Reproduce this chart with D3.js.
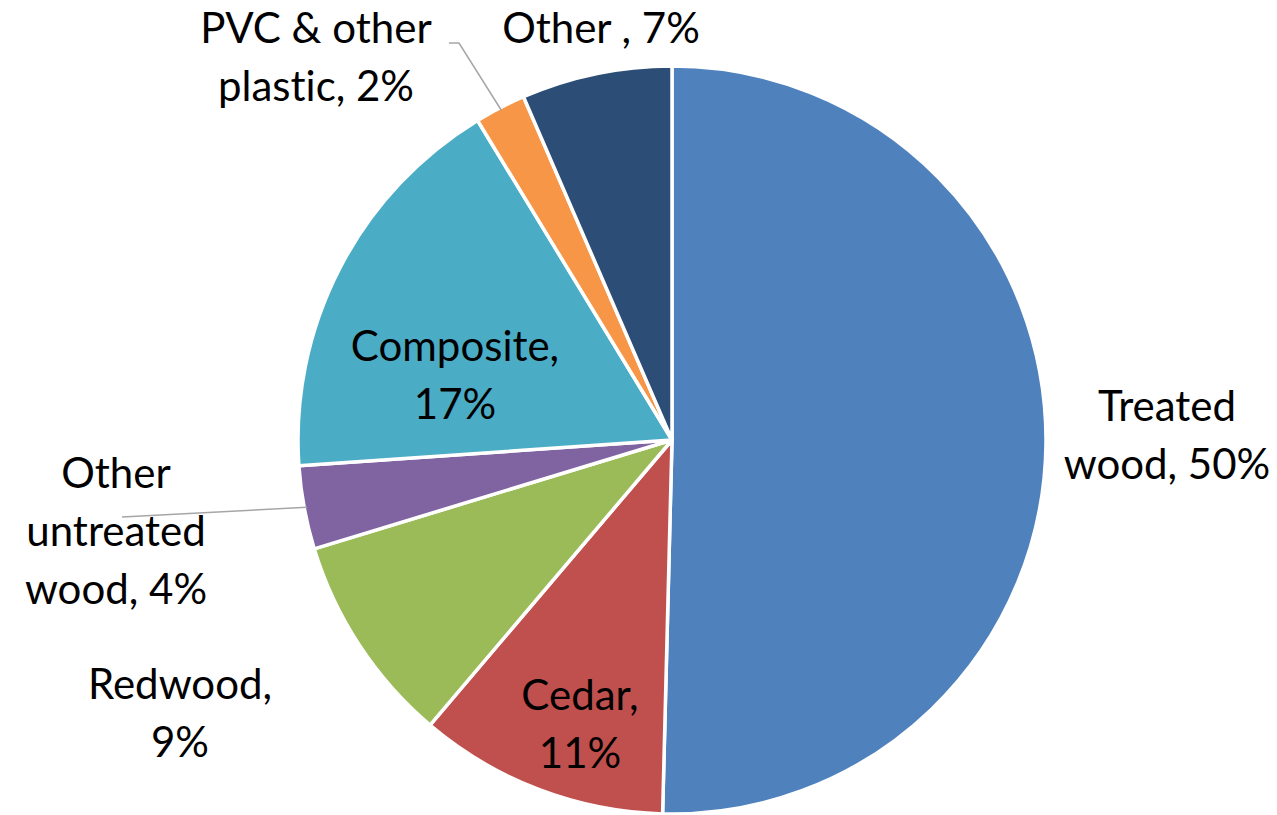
<!DOCTYPE html>
<html>
<head>
<meta charset="utf-8">
<script src="https://cdn.jsdelivr.net/npm/d3@7"></script>
<style>
  html, body { margin: 0; padding: 0; background: #fff; }
  svg { display: block; }
  text { font-variant-ligatures: none; font-feature-settings: "liga" 0; }
</style>
</head>
<body>
<svg id="chart" width="1277" height="815"></svg>
<script>
// deck material share, clockwise from 12 o'clock
const categories = ["Treated wood", "Cedar", "Redwood", "Other untreated wood", "Composite", "PVC & other plastic", "Other"]
const values = [50.4, 10.8, 9.1, 3.6, 17.4, 2.2, 6.5]
const labelLines = [
    ["Treated", "wood, 50%"],
    ["Cedar,", "11%"],
    ["Redwood,", "9%"],
    ["Other", "untreated", "wood, 4%"],
    ["Composite,", "17%"],
    ["PVC & other", "plastic, 2%"],
    ["Other , 7%"]
]
const colors = ["#4F81BD", "#C0504D", "#9BBB59", "#8064A2", "#4BACC6", "#F79646", "#2C4D75"]

const W = 1277, H = 815
const cx = 672, cy = 440, R = 374
const lineH = 58

// where Excel put each label: center x, first baseline, optional leader start
const labelLayout = [
    { x: 1167, y: 421 },
    { x: 580, y: 710 },
    { x: 180, y: 699 },
    { x: 116, y: 488, leader: [122, 517] },
    { x: 455, y: 361 },
    { x: 316, y: 43, leader: [449, 43], elbow: [459, 43] },
    { x: 601, y: 43 }
]

const svg = d3.select("#chart")
const g = svg.append("g").attr("transform", `translate(${cx},${cy})`)

const pie = d3.pie().sort(null).value(d => d)
const arcs = pie(values)
const arc = d3.arc().innerRadius(0).outerRadius(R)

g.selectAll("path.slice")
    .data(arcs)
    .enter()
    .append("path")
    .attr("class", "slice")
    .attr("d", arc)
    .attr("fill", (d, i) => colors[i])
    .attr("stroke", "#fff")
    .attr("stroke-width", 3.5)
    .attr("stroke-linejoin", "round")

// leader lines end on the rim at the middle of the slice
const rimPoint = d => {
    const a = (d.startAngle + d.endAngle) / 2
    const r = R - 3
    return [cx + r * Math.sin(a), cy - r * Math.cos(a)]
}

arcs.forEach((d, i) => {
    const l = labelLayout[i]
    if (!l.leader) return
    const pts = [l.leader]
    if (l.elbow) pts.push(l.elbow)
    pts.push(rimPoint(d))
    svg.append("path")
        .attr("d", d3.line()(pts))
        .attr("fill", "none")
        .attr("stroke", "#A6A6A6")
        .attr("stroke-width", 1.5)
})

// labels
const labels = svg.selectAll("text.lbl")
    .data(categories)
    .enter()
    .append("text")
    .attr("class", "lbl")
    .attr("text-anchor", "middle")
    .attr("font-family", "Lato, 'Open Sans', sans-serif")
    .attr("font-size", 42)
    .attr("fill", "#000")

labels.each(function(c, i) {
    const l = labelLayout[i]
    d3.select(this).selectAll("tspan")
        .data(labelLines[i])
        .enter()
        .append("tspan")
        .attr("x", l.x)
        .attr("y", (t, j) => l.y + j * lineH)
        .text(t => t)
})
</script>
</body>
</html>
